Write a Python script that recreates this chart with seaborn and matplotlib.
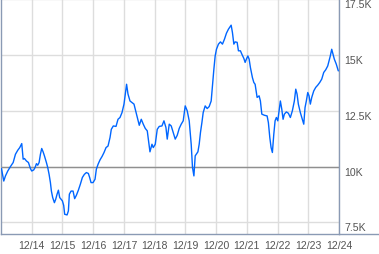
import matplotlib
matplotlib.use("Agg")
import matplotlib.pyplot as plt
from matplotlib.lines import Line2D
import seaborn as sns
import pandas as pd

# decimal year positions of the read points
years = [
    2013.015, 2013.090, 2013.145, 2013.220, 2013.308, 2013.396, 2013.470, 2013.545, 2013.610, 2013.675,
    2013.721, 2013.763, 2013.828, 2013.893, 2013.958, 2014.000, 2014.065, 2014.110, 2014.153, 2014.195,
    2014.240, 2014.283, 2014.325, 2014.370, 2014.413, 2014.478, 2014.520, 2014.565, 2014.608, 2014.640,
    2014.682, 2014.738, 2014.780, 2014.825, 2014.868, 2014.910, 2014.955, 2014.998, 2015.040, 2015.072,
    2015.150, 2015.193, 2015.225, 2015.280, 2015.345, 2015.397, 2015.453, 2015.518, 2015.583, 2015.648,
    2015.713, 2015.778, 2015.843, 2015.885, 2015.930, 2015.995, 2016.060, 2016.103, 2016.158, 2016.223,
    2016.288, 2016.353, 2016.418, 2016.483, 2016.548, 2016.590, 2016.655, 2016.743, 2016.808, 2016.873,
    2016.938, 2017.003, 2017.045, 2017.087, 2017.133, 2017.198, 2017.263, 2017.328, 2017.370, 2017.435,
    2017.500, 2017.565, 2017.630, 2017.695, 2017.760, 2017.802, 2017.848, 2017.913, 2017.955, 2018.020,
    2018.085, 2018.150, 2018.238, 2018.303, 2018.368, 2018.410, 2018.475, 2018.540, 2018.605, 2018.670,
    2018.735, 2018.800, 2018.865, 2018.930, 2018.995, 2019.060, 2019.125, 2019.190, 2019.232, 2019.278,
    2019.320, 2019.408, 2019.450, 2019.492, 2019.538, 2019.580, 2019.645, 2019.710, 2019.775, 2019.840,
    2019.882, 2019.928, 2019.970, 2020.012, 2020.077, 2020.142, 2020.207, 2020.272, 2020.337, 2020.402,
    2020.490, 2020.532, 2020.578, 2020.620, 2020.685, 2020.727, 2020.792, 2020.838, 2020.903, 2020.945,
    2020.987, 2021.033, 2021.075, 2021.117, 2021.182, 2021.228, 2021.270, 2021.335, 2021.400, 2021.442,
    2021.488, 2021.572, 2021.660, 2021.702, 2021.748, 2021.790, 2021.832, 2021.878, 2021.920, 2021.962,
    2022.008, 2022.050, 2022.092, 2022.138, 2022.180, 2022.222, 2022.287, 2022.352, 2022.417, 2022.482,
    2022.547, 2022.593, 2022.635, 2022.677, 2022.742, 2022.807, 2022.853, 2022.895, 2022.937, 2022.983,
    2023.025, 2023.067, 2023.113, 2023.178, 2023.243, 2023.308, 2023.373, 2023.438, 2023.503, 2023.568,
    2023.633, 2023.675, 2023.717, 2023.763, 2023.805, 2023.847, 2023.912, 2023.977,
]

values = [
    9910, 9350, 9580, 9800, 10000, 10180, 10550, 10730, 10850, 11030,
    10330, 10360, 10250, 10180, 9910, 9800, 9850, 9960, 10130, 10060,
    10180, 10550, 10810, 10660, 10480, 10180, 9960, 9650, 9280, 8900,
    8610, 8380, 8530, 8760, 8940, 8610, 8530, 8460, 8260, 7860,
    7830, 8010, 8760, 8900, 8900, 8560, 8710, 8940, 9210, 9510,
    9650, 9730, 9690, 9510, 9280, 9280, 9430, 9880, 10100, 10300,
    10450, 10630, 10850, 10920, 11300, 11670, 11820, 11800, 12120, 12200,
    12420, 12800, 13250, 13690, 13250, 12940, 12870, 12800, 12570, 12200,
    11850, 12120, 11900, 11710, 11600, 11150, 10660, 11000, 10850, 11000,
    11670, 11800, 11820, 12050, 11750, 11230, 11900, 11820, 11530, 11230,
    11400, 11710, 11900, 12050, 12720, 12500, 12050, 11000, 9960, 9580,
    10480, 10660, 11000, 11530, 11970, 12420, 12720, 12600, 12690, 12940,
    13620, 14370, 14960, 15260, 15490, 15590, 15490, 15710, 15980, 16160,
    16340, 16010, 15490, 15590, 15570, 15190, 15190, 15040, 14850, 14670,
    14820, 14960, 14820, 14440, 13990, 13770, 13690, 13100, 13170, 12940,
    12350, 12300, 12270, 11970, 11300, 10850, 10630, 11450, 12050, 12200,
    12050, 12500, 12940, 12570, 12120, 12350, 12450, 12390, 12200, 12500,
    12940, 13470, 13250, 12800, 12420, 12120, 11900, 12650, 12940, 13320,
    13170, 12800, 13100, 13390, 13550, 13650, 13770, 13920, 14220, 14340,
    14510, 14740, 14960, 15260, 15040, 14820, 14590, 14290,
]

x_ticks = [2014, 2015, 2016, 2017, 2018, 2019, 2020, 2021, 2022, 2023, 2024]
x_labels = ["12/14", "12/15", "12/16", "12/17", "12/18", "12/19",
            "12/20", "12/21", "12/22", "12/23", "12/24"]
y_ticks = [7500, 10000, 12500, 15000, 17500]
y_labels = ["7.5K", "10K", "12.5K", "15K", "17.5K"]
baseline = 10000

sns.set_style("white")
plt.rcParams["font.family"] = ["Liberation Sans", "DejaVu Sans"]

W, H = 379, 255
fig = plt.figure(figsize=(W / 100, H / 100), dpi=100)
ax = fig.add_axes([1 / W, 20 / H, 338 / W, 234.7 / H])

df = pd.DataFrame({"year": years, "value": values})

for yv in y_ticks:
    ax.axhline(yv, color="#dddddd", lw=1.0, zorder=0)
for xv in x_ticks:
    ax.axvline(xv, color="#dddddd", lw=1.0, zorder=0)
ax.axhline(baseline, color="#8f8f8f", lw=1.0, zorder=1)

sns.lineplot(data=df, x="year", y="value", ax=ax, color="#0066ff", lw=1.0, zorder=3)

ax.set_xlim(2013.0, 2024.0)
ax.set_ylim(6975, 17500)
ax.set_xlabel("")
ax.set_ylabel("")
ax.set_xticks(x_ticks)
ax.set_xticklabels(x_labels)
ax.set_yticks(y_ticks)
ax.set_yticklabels(y_labels)
ax.yaxis.tick_right()
ax.tick_params(axis="both", length=0, labelsize=7.6, colors="#555555")
ax.tick_params(axis="x", pad=4)
ax.tick_params(axis="y", pad=3.6)
for lab in ax.get_yticklabels():
    lab.set_verticalalignment("top")
    lab.set_horizontalalignment("left")

spine_c = "#8a9ab4"
for side in ["left", "right", "bottom"]:
    ax.spines[side].set_color(spine_c)
    ax.spines[side].set_linewidth(1.0)
ax.spines["top"].set_visible(False)

# bottom border continues under the right-hand label column
fig.add_artist(Line2D([339 / W, 1.0], [20 / H, 20 / H], color=spine_c, lw=1.0,
                      transform=fig.transFigure))

fig.savefig("out.png", dpi=100)
